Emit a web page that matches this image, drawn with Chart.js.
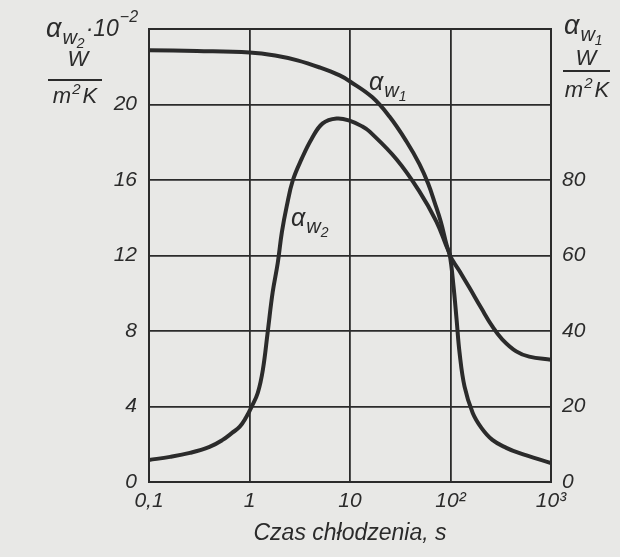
<!DOCTYPE html>
<html>
<head>
<meta charset="utf-8">
<script src="https://cdn.jsdelivr.net/npm/chart.js@4/dist/chart.umd.min.js"></script>
<style>
html,body{margin:0;padding:0;background:#e8e8e6;}
canvas{display:block;}
</style>
</head>
<body>
<canvas id="c" width="620" height="557" style="width:620px;height:557px"></canvas>
<script>
// ---- data ----
const xTicks = [0.1, 1, 10, 100, 1000];
const xTickLabels = ['0,1', '1', '10', '10²', '10³'];
const leftTicks = [0, 4, 8, 12, 16, 20];
const rightTicks = [0, 20, 40, 60, 80];

// alpha_w1 (right axis, W/m²K)
const w1Time   = [0.1, 0.3, 1, 1.8, 3, 5, 7.9, 10, 16.7, 24.7, 36.5, 49.1, 60, 70, 80, 98, 122, 154, 203, 261, 327, 451, 607, 1000];
const w1Values = [114.4, 114.2, 113.8, 113.0, 111.7, 109.8, 107.7, 106.1, 101.9, 96.8, 90.2, 84.2, 79.0, 73.8, 69, 60.3, 56.0, 51.5, 46.0, 41.2, 37.8, 34.6, 33.2, 32.4];

// alpha_w2 ·10^-2 (left axis, W/m²K)
const w2Time   = [0.1, 0.162, 0.255, 0.4, 0.54, 0.67, 0.8, 0.92, 1.05, 1.21, 1.36, 1.52, 1.70, 1.91, 2.10, 2.35, 2.69, 3.31, 4.16, 5.35, 7.36, 9.9, 13.3, 15.7, 29, 49, 72.4, 91, 98, 107, 115, 123, 138, 166, 203, 261, 359, 479, 1000];
const w2Values = [1.17, 1.33, 1.54, 1.86, 2.23, 2.6, 2.93, 3.4, 3.99, 4.73, 5.96, 7.98, 10.05, 11.6, 13.24, 14.63, 15.96, 17.13, 18.19, 19.0, 19.26, 19.15, 18.83, 18.56, 17.1, 15.4, 13.8, 12.5, 12.07, 10.4, 8.6, 6.86, 5.05, 3.67, 2.87, 2.23, 1.81, 1.54, 1.0];

const INK = '#2b2b2b';
const BG = '#e8e8e6';
const FONT = '"Liberation Sans", Arial, sans-serif';

const toPts = (xs, ys) => xs.map((x, i) => ({x: x, y: ys[i]}));

function alphaSub(ctx, x, y, sub, big) {
  big = big || 25;
  ctx.textAlign = 'left';
  ctx.textBaseline = 'alphabetic';
  ctx.font = 'italic ' + big + 'px ' + FONT;
  ctx.fillText('α', x, y);
  let w = ctx.measureText('α').width;
  ctx.font = 'italic 20px ' + FONT;
  ctx.fillText('w', x + w + 1, y + 7);
  let w2 = ctx.measureText('w').width;
  ctx.font = 'italic 14px ' + FONT;
  ctx.fillText(sub, x + w + w2 + 1, y + 11);
  return x + w + w2 + 1 + ctx.measureText(sub).width;
}

function drawM2K(ctx, cx, y) {
  ctx.font = 'italic 22px ' + FONT;
  const wm = ctx.measureText('m').width;
  const wk = ctx.measureText('K').width;
  ctx.font = 'italic 15px ' + FONT;
  const ws = ctx.measureText('2').width;
  const total = wm + ws + 3 + wk;
  let x = cx - total / 2;
  ctx.textAlign = 'left';
  ctx.font = 'italic 22px ' + FONT;
  ctx.fillText('m', x, y);
  ctx.font = 'italic 15px ' + FONT;
  ctx.fillText('2', x + wm + 1, y - 9);
  ctx.font = 'italic 22px ' + FONT;
  ctx.fillText('K', x + wm + ws + 3, y);
}

const textPlugin = {
  id: 'texts',
  beforeDraw(chart) {
    const ctx = chart.ctx;
    ctx.save();
    ctx.fillStyle = BG;
    ctx.fillRect(0, 0, chart.width, chart.height);
    ctx.restore();
  },
  afterDraw(chart) {
    const ctx = chart.ctx;
    const a = chart.chartArea;
    ctx.save();
    ctx.fillStyle = INK;
    ctx.strokeStyle = INK;
    // top frame line
    ctx.lineWidth = 2;
    ctx.beginPath(); ctx.moveTo(a.left - 1, a.top); ctx.lineTo(a.right + 1, a.top); ctx.stroke();
    // left title
    let end = alphaSub(ctx, 46, 37, '2', 27);
    ctx.font = 'italic 23px ' + FONT;
    ctx.fillText('·10', end + 1, 36);
    let w10 = ctx.measureText('·10').width;
    ctx.font = 'italic 16px ' + FONT;
    ctx.fillText('−2', end + 1 + w10 + 1, 22);
    ctx.textAlign = 'center';
    ctx.font = 'italic 22px ' + FONT;
    ctx.fillText('W', 78, 66);
    ctx.lineWidth = 2;
    ctx.beginPath(); ctx.moveTo(48, 80); ctx.lineTo(102, 80); ctx.stroke();
    drawM2K(ctx, 75, 103);
    // right title
    alphaSub(ctx, 564, 34, '1', 27);
    ctx.textAlign = 'center';
    ctx.font = 'italic 22px ' + FONT;
    ctx.fillText('W', 586, 65);
    ctx.beginPath(); ctx.moveTo(563, 71); ctx.lineTo(610, 71); ctx.stroke();
    drawM2K(ctx, 587, 97);
    // curve labels
    alphaSub(ctx, 369, 90, '1', 25);
    alphaSub(ctx, 291, 226, '2', 25);
    ctx.restore();
  }
};

new Chart(document.getElementById('c'), {
  type: 'line',
  data: {
    datasets: [
      {
        label: 'αw1',
        data: toPts(w1Time, w1Values),
        yAxisID: 'y1',
        borderColor: INK,
        borderWidth: 4,
        pointRadius: 0,
        tension: 0.4,
        fill: false
      },
      {
        label: 'αw2',
        data: toPts(w2Time, w2Values),
        yAxisID: 'y',
        borderColor: INK,
        borderWidth: 4,
        pointRadius: 0,
        tension: 0.4,
        fill: false
      }
    ]
  },
  options: {
    responsive: false,
    animation: false,
    devicePixelRatio: 1,
    layout: {padding: {top: 29, left: 0, right: 0, bottom: 0}},
    plugins: {legend: {display: false}, tooltip: {enabled: false}},
    scales: {
      x: {
        type: 'logarithmic',
        min: 0.1,
        max: 1000,
        afterBuildTicks(scale) { scale.ticks = xTicks.map(v => ({value: v})); },
        afterFit(scale) { scale.height = 75; },
        ticks: {
          autoSkip: false,
          maxRotation: 0,
          padding: 7,
          color: INK,
          font: {family: FONT, size: 21, style: 'italic'},
          callback(v) { const i = xTicks.indexOf(v); return i >= 0 ? xTickLabels[i] : null; }
        },
        grid: {color: INK, lineWidth: 1.8, drawTicks: false},
        border: {color: INK, width: 2},
        title: {
          display: true,
          text: 'Czas chłodzenia, s',
          color: INK,
          font: {family: FONT, size: 23, style: 'italic'},
          padding: {top: 0, bottom: 10}
        }
      },
      y: {
        position: 'left',
        min: 0,
        max: 24,
        afterBuildTicks(scale) { scale.ticks = [0, 4, 8, 12, 16, 20, 24].map(v => ({value: v})); },
        afterFit(scale) { scale.width = 149; },
        ticks: {
          padding: 12,
          color: INK,
          font: {family: FONT, size: 21, style: 'italic'},
          callback(v) { return leftTicks.indexOf(v) >= 0 ? String(v) : null; }
        },
        grid: {color: INK, lineWidth: 1.8, drawTicks: false},
        border: {color: INK, width: 2}
      },
      y1: {
        position: 'right',
        min: 0,
        max: 120,
        afterBuildTicks(scale) { scale.ticks = [0, 20, 40, 60, 80, 100, 120].map(v => ({value: v})); },
        afterFit(scale) { scale.width = 69; },
        ticks: {
          padding: 11,
          color: INK,
          font: {family: FONT, size: 21, style: 'italic'},
          callback(v) { return rightTicks.indexOf(v) >= 0 ? String(v) : null; }
        },
        grid: {display: false, drawTicks: false},
        border: {color: INK, width: 2}
      }
    }
  },
  plugins: [textPlugin]
});
</script>
</body>
</html>
